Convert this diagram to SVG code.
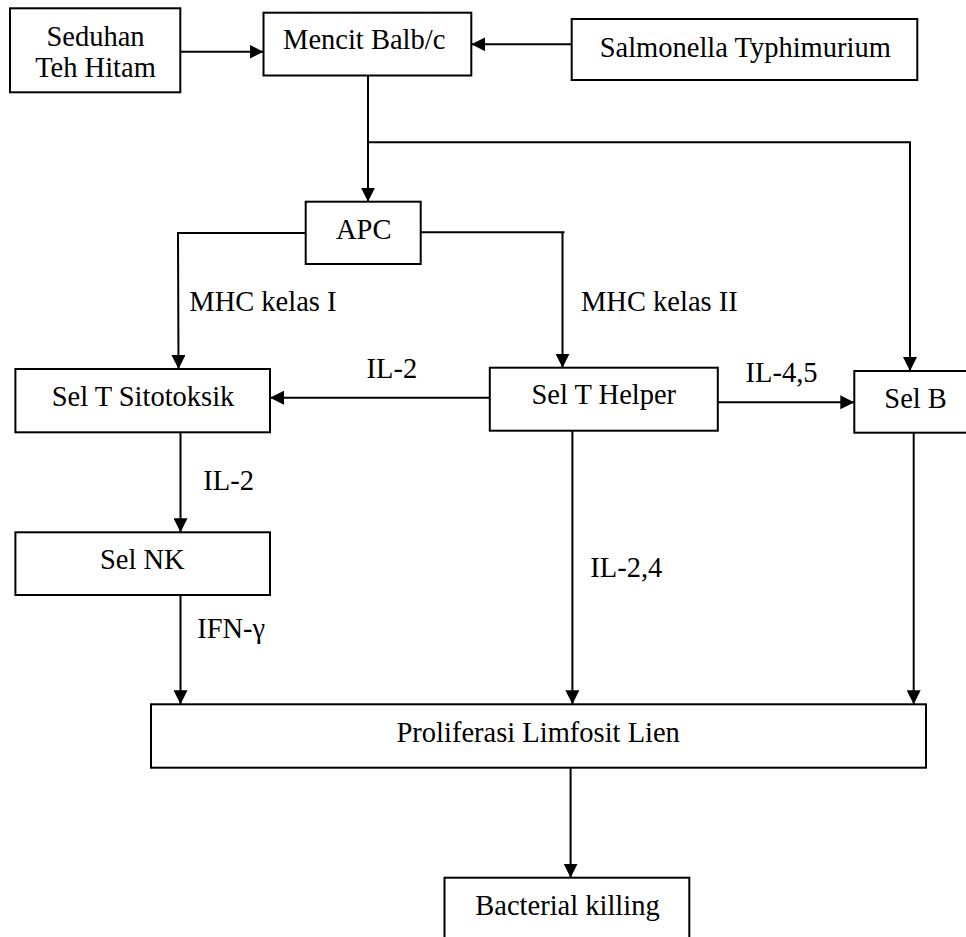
<svg xmlns="http://www.w3.org/2000/svg" width="966" height="937" viewBox="0 0 966 937">
<defs>
<marker id="arr" markerUnits="userSpaceOnUse" markerWidth="14" markerHeight="14" refX="14" refY="7" orient="auto">
<path d="M0,0 L14,7 L0,14 z" fill="#000"/>
</marker>
<style>
.box{fill:#fff;stroke:#000;stroke-width:2}
text{font-family:'Liberation Serif','Times New Roman',Times,serif;font-size:28.5px;fill:#000}
.c{text-anchor:middle}
.ln{fill:none;stroke:#000;stroke-width:2}
.a{marker-end:url(#arr)}
</style>
</defs>
<rect width="966" height="937" fill="#fff"/>
<g id="connectors">
<line class="ln a" x1="180" y1="51.7" x2="263.5" y2="51.7"/>
<line class="ln a" x1="571.7" y1="44.3" x2="471.3" y2="44.3"/>
<line class="ln a" x1="368" y1="75.5" x2="368" y2="201.7"/>
<polyline class="ln a" points="368,142.3 910,142.3 910,371"/>
<polyline class="ln a" points="305.7,233 178,233 178.5,369"/>
<polyline class="ln" points="420.7,232.3 564.5,232.3"/>
<line class="ln a" x1="562.5" y1="232.3" x2="562.5" y2="367.7"/>
<line class="ln a" x1="489.8" y1="397.7" x2="270" y2="397.7"/>
<line class="ln a" x1="717.8" y1="402.3" x2="854.3" y2="402.3"/>
<line class="ln a" x1="180.5" y1="432.3" x2="180.5" y2="532.3"/>
<line class="ln a" x1="572.4" y1="430.7" x2="572.4" y2="704.3"/>
<line class="ln a" x1="913.7" y1="432.7" x2="913.7" y2="704.3"/>
<line class="ln a" x1="180.5" y1="595" x2="180.5" y2="704.3"/>
<line class="ln a" x1="570.6" y1="767.7" x2="570.6" y2="877.7"/>
<text x="189.3" y="311">MHC kelas I</text>
<text x="581" y="311">MHC kelas II</text>
<text x="366.6" y="377.7">IL-2</text>
<text x="745.5" y="382.3">IL-4,5</text>
<text x="203.3" y="490">IL-2</text>
<text x="590.3" y="577.3">IL-2,4</text>
<text x="197.2" y="638.3">IFN-γ</text>
</g>
<g id="seduhan">
<rect class="box" x="10" y="8.3" width="170.3" height="84"/>
<text class="c" x="95.5" y="46">Seduhan</text>
<text class="c" x="95.5" y="77.3">Teh Hitam</text>
</g>
<g id="mencit">
<rect class="box" x="263.5" y="12.7" width="207.8" height="62.8"/>
<text class="c" x="364.2" y="49.3">Mencit Balb/c</text>
</g>
<g id="salmonella">
<rect class="box" x="571.7" y="19" width="345.6" height="61"/>
<text class="c" x="745.3" y="56.7">Salmonella Typhimurium</text>
</g>
<g id="apc">
<rect class="box" x="305.7" y="201.7" width="115" height="62.3"/>
<text class="c" x="363.7" y="239.3">APC</text>
</g>
<g id="sitotoksik">
<rect class="box" x="15.4" y="369" width="254.6" height="63.3"/>
<text class="c" x="143" y="405.7">Sel T Sitotoksik</text>
</g>
<g id="helper">
<rect class="box" x="489.8" y="367.7" width="228" height="63"/>
<text class="c" x="603.8" y="404.3">Sel T Helper</text>
</g>
<g id="selb">
<rect class="box" x="854.3" y="371" width="130" height="61.7"/>
<text class="c" x="915.6" y="408.3">Sel B</text>
</g>
<g id="nk">
<rect class="box" x="15.4" y="532.3" width="254.6" height="62.7"/>
<text class="c" x="142.3" y="569.3">Sel NK</text>
</g>
<g id="proliferasi">
<rect class="box" x="151" y="704.3" width="775" height="63.4"/>
<text class="c" x="538.2" y="741.7">Proliferasi Limfosit Lien</text>
</g>
<g id="bacterial">
<rect class="box" x="444.5" y="877.7" width="244.8" height="80"/>
<text class="c" x="567.5" y="915">Bacterial killing</text>
</g>
</svg>
